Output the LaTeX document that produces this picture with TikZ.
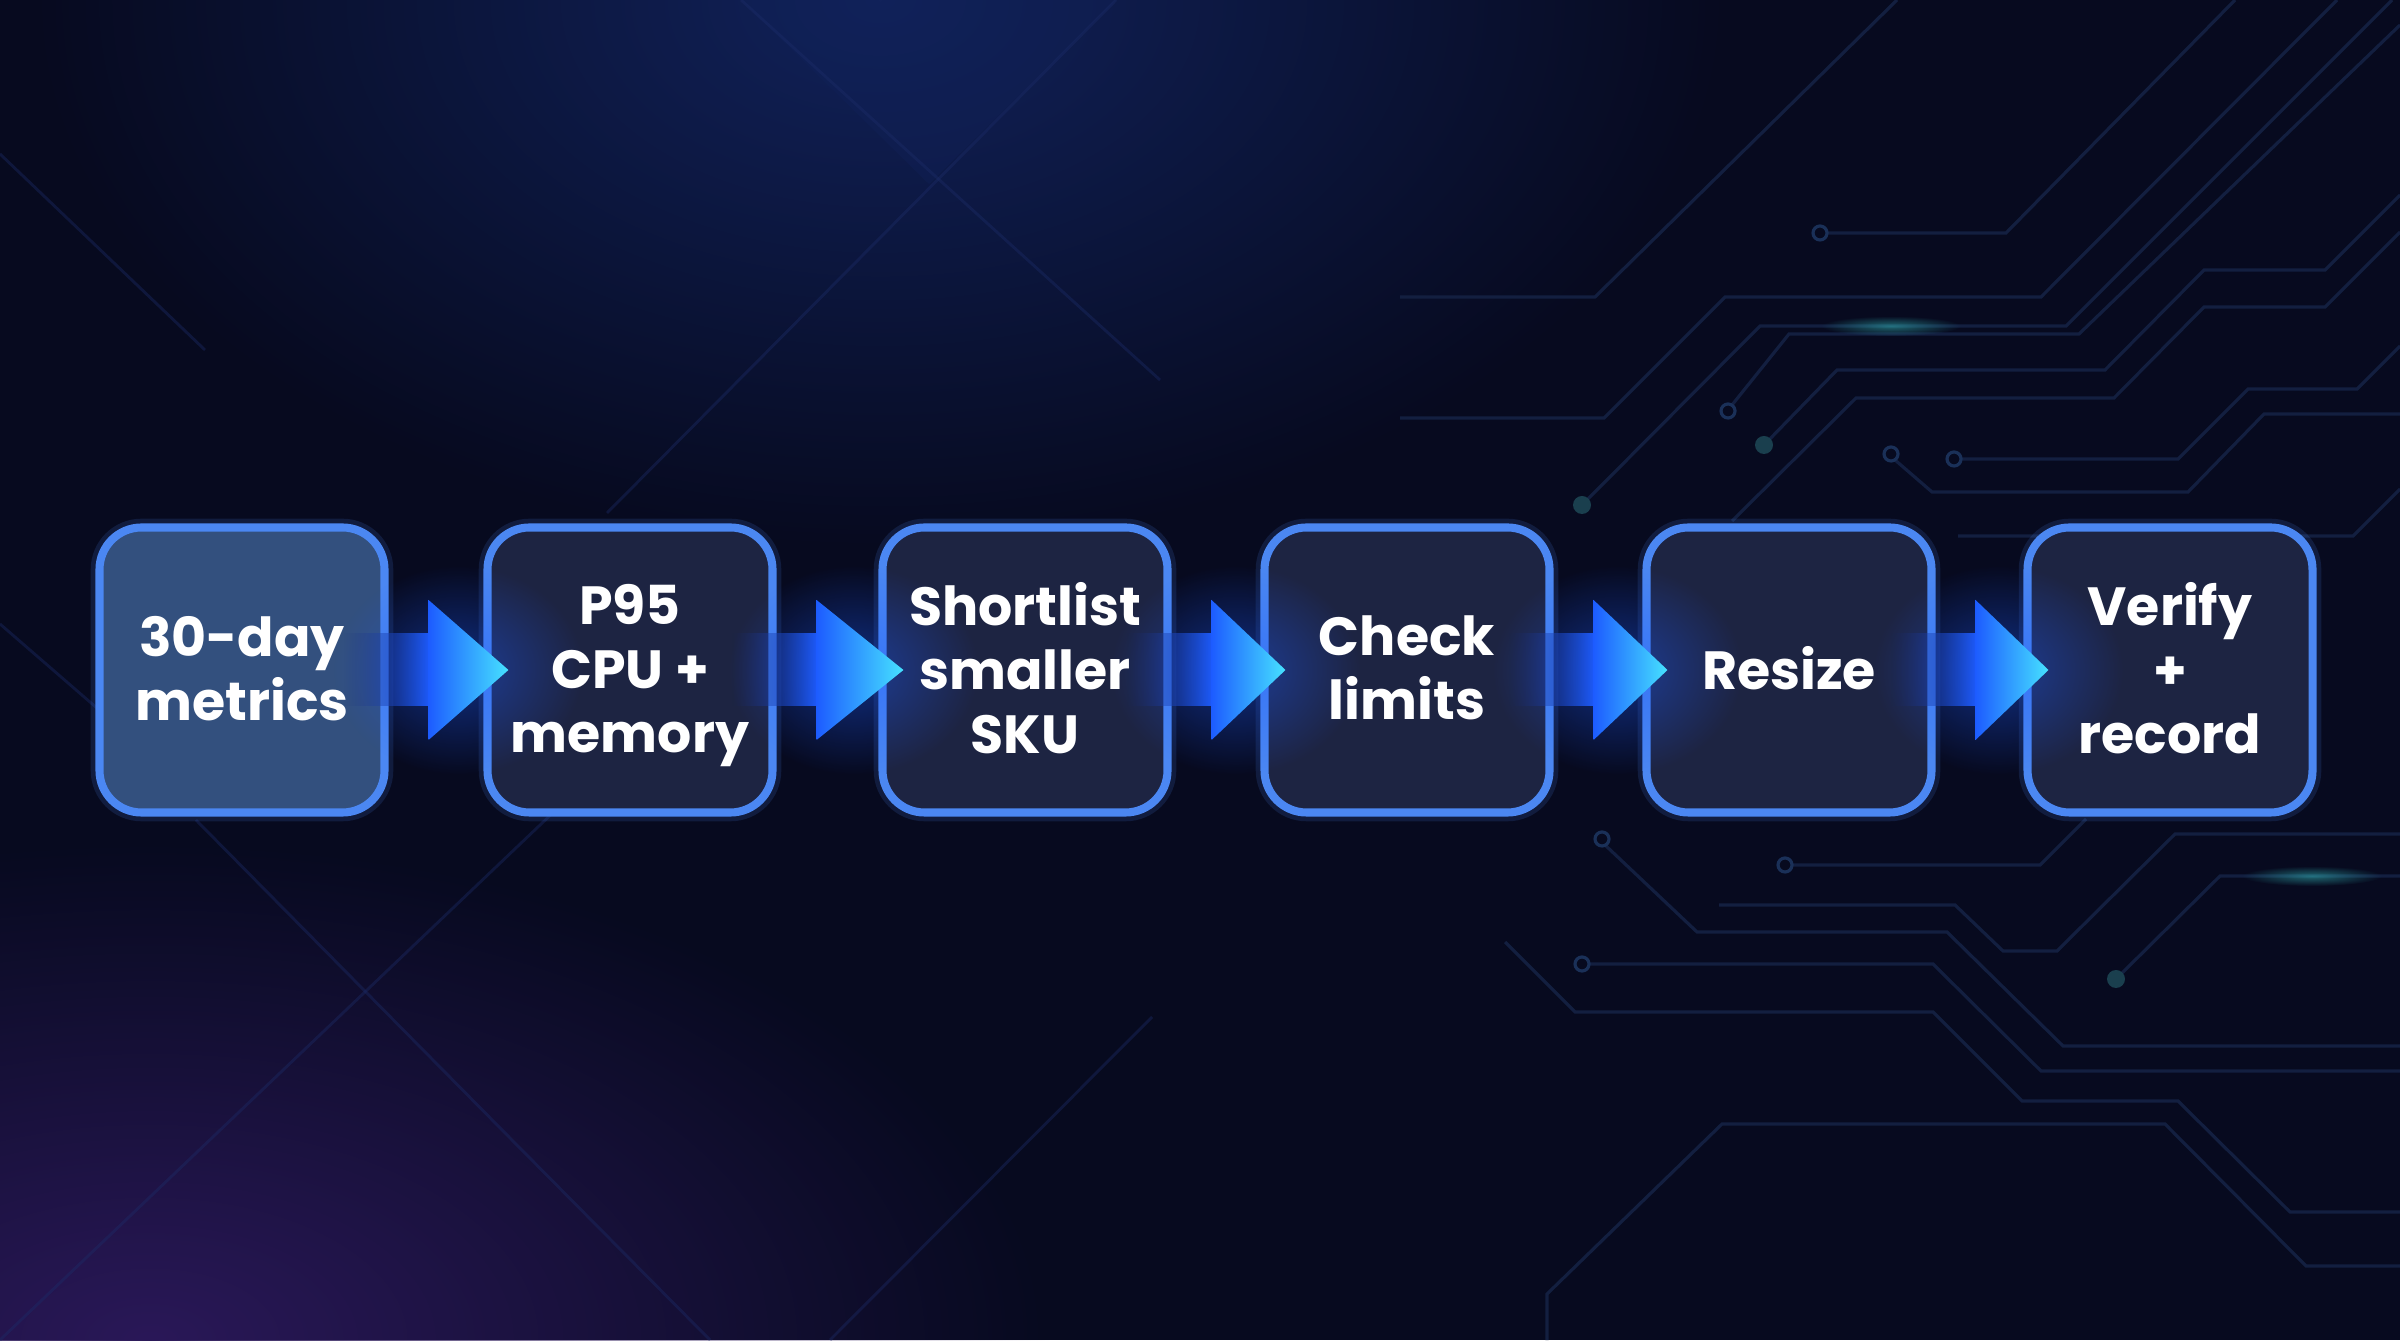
\documentclass[tikz,border=0pt]{standalone}
\usepackage{fontspec}
\setmainfont{Poppins}[BoldFont={Poppins Bold}]
\usetikzlibrary{calc,positioning,fadings}
\definecolor{bgnavy}{HTML}{070A1F}
\definecolor{bgblue}{HTML}{11225A}
\definecolor{bgpurple}{HTML}{2A1858}
\definecolor{diagcol}{HTML}{1C2C68}
\definecolor{tracecol}{HTML}{131F40}
\definecolor{padcol}{HTML}{1A3058}
\definecolor{dotcol}{HTML}{1A3F4E}
\definecolor{glowcol}{HTML}{2FA6A8}
\definecolor{boxline}{HTML}{4B87F2}
\definecolor{boxfill}{HTML}{1D2442}
\definecolor{firstfill}{HTML}{33507E}
\definecolor{shaftleft}{HTML}{1A2A70}
\definecolor{arrowblue}{HTML}{1D5CFF}
\definecolor{arrowmid}{HTML}{2470FF}
\definecolor{arrowcyan}{HTML}{46E2FF}
\tikzfading[name=shaftfade, left color=transparent!100, right color=transparent!0]
\tikzfading[name=softglow, inner color=transparent!0, outer color=transparent!100]
\tikzset{
    stepbox/.style={draw=boxline, line width=2.3pt, rounded corners=0.42cm, fill=boxfill,
        minimum width=2.85cm, minimum height=2.85cm, inner sep=0pt,
        preaction={draw=boxline, line width=5pt, opacity=0.15}},
    steptext/.style={text=white, align=center, text depth=0pt, yshift=0.02cm,
        font=\bfseries\fontsize{15.3}{18.2}\selectfont},
    diagline/.style={draw=diagcol, line width=0.8pt, opacity=0.4},
    trace/.style={draw=tracecol, line width=0.9pt},
    pad/.style={draw=padcol, line width=0.9pt},
    tracedot/.style={fill=dotcol},
}
% block arrow from one step box to the next
\newcommand{\flowarrow}[2]{%
    \fill[arrowblue, opacity=0.45, path fading=softglow] ($(#2.west)+(-0.25,0)$) ellipse (1.25cm and 1.05cm);
    \shade[left color=shaftleft, right color=arrowblue, path fading=shaftfade]
        ($(#1.east)+(-0.45,-0.36)$) rectangle ($(#1.east)+(0.42,0.36)$);
    \shade[left color=arrowblue, middle color=arrowmid, right color=arrowcyan]
        ($(#1.east)+(0.40,0.70)$) -- ($(#2.west)+(0.25,0)$) -- ($(#1.east)+(0.40,-0.70)$) -- cycle;
}

\begin{document}
\begin{tikzpicture}
    \useasboundingbox (0,0) rectangle (24,13.4);
    \fill[bgnavy] (0,0) rectangle (24,13.4);
    \fill[bgblue, path fading=softglow] (8.8,13.4) ellipse (8.5cm and 5.5cm);
    \fill[bgpurple, path fading=softglow] (1.5,0) ellipse (9cm and 5cm);
    \fill[bgblue, opacity=0.35] (7.41,13.4) -- (9.29,11.56) -- (11.16,13.4) -- cycle;

        \draw[diagline] (7.41,13.4) -- (11.6,9.6);
        \draw[diagline] (11.16,13.4) -- (6.07,8.27);
        \draw[diagline] (0,11.86) -- (2.05,9.9);
        \draw[diagline] (0,7.16) -- (0.98,6.31);
        \draw[diagline] (1.96,5.2) -- (5.09,2.03) -- (7.1,0);
        \draw[diagline] (0,0) -- (6.25,5.96);
        \draw[diagline] (11.52,3.23) -- (8.30,0);

    \begin{scope}
        \draw[trace] (18.27,11.07) -- (20.06,11.07) -- (22.35,13.4);
        \draw[pad] (18.20,11.07) circle (0.07);
        \draw[trace] (14.00,10.43) -- (15.95,10.43) -- (18.97,13.4);
        \draw[trace] (14.00,9.22) -- (16.04,9.22) -- (17.25,10.43) -- (20.41,10.43) -- (23.37,13.4);
        \draw[trace] (15.82,8.35) -- (17.60,10.14) -- (20.66,10.14) -- (23.92,13.4);
        \fill[tracedot] (15.82,8.35) circle (0.09);
        \draw[trace] (17.32,9.35) -- (17.89,10.06) -- (20.79,10.06) -- (24,13.15);
        \draw[pad] (17.28,9.29) circle (0.07);
        \draw[trace] (17.64,8.95) -- (18.37,9.70) -- (21.05,9.70) -- (22.04,10.70) -- (23.25,10.70) -- (24,11.45);
        \fill[tracedot] (17.64,8.95) circle (0.09);
        \draw[trace] (17.32,8.19) -- (18.56,9.42) -- (21.14,9.42) -- (22.04,10.33) -- (23.25,10.33) -- (24,11.08);
        \draw[trace] (19.61,8.81) -- (21.78,8.81) -- (22.48,9.51) -- (23.57,9.51) -- (24,9.94);
        \draw[pad] (19.54,8.81) circle (0.07);
        \draw[trace] (18.95,8.80) -- (19.32,8.48) -- (21.88,8.48) -- (22.64,9.26) -- (24,9.26);
        \draw[pad] (18.91,8.86) circle (0.07);
        \draw[trace] (19.58,8.04) -- (23.53,8.04) -- (24,8.51);
        \draw[trace] (17.92,4.75) -- (20.40,4.75) -- (20.86,5.21);
        \draw[pad] (17.85,4.75) circle (0.07);
        \draw[trace] (16.05,4.95) -- (16.97,4.08) -- (19.47,4.08) -- (20.63,2.94) -- (24,2.94);
        \draw[pad] (16.02,5.01) circle (0.07);
        \draw[trace] (17.19,4.35) -- (19.55,4.35) -- (20.03,3.89) -- (20.57,3.89) -- (21.75,5.06) -- (24,5.06);
        \draw[trace] (15.89,3.76) -- (19.33,3.76) -- (20.41,2.69) -- (24,2.69);
        \draw[pad] (15.82,3.76) circle (0.07);
        \draw[trace] (15.05,3.98) -- (15.75,3.28) -- (19.33,3.28) -- (20.22,2.39) -- (21.78,2.39) -- (22.90,1.28) -- (24,1.28);
        \draw[trace] (15.47,0) -- (15.47,0.46) -- (17.22,2.16) -- (21.65,2.16) -- (23.06,0.74) -- (24,0.74);
        \draw[trace] (21.16,3.61) -- (22.20,4.64) -- (24,4.64);
        \fill[tracedot] (21.16,3.61) circle (0.09);
        \fill[glowcol, opacity=0.6, path fading=softglow] (18.91,10.14) ellipse (0.7cm and 0.1cm);
        \fill[glowcol, opacity=0.6, path fading=softglow] (23.12,4.64) ellipse (0.7cm and 0.1cm);
    \end{scope}

    \node[stepbox, fill=firstfill] (b1) at (2.42,6.70) {};
    \node[stepbox] (b2) at (6.30,6.70) {};
    \node[stepbox] (b3) at (10.25,6.70) {};
    \node[stepbox] (b4) at (14.07,6.70) {};
    \node[stepbox] (b5) at (17.89,6.70) {};
    \node[stepbox] (b6) at (21.70,6.70) {};

    \flowarrow{b1}{b2}
    \flowarrow{b2}{b3}
    \flowarrow{b3}{b4}
    \flowarrow{b4}{b5}
    \flowarrow{b5}{b6}

    \node[steptext] (t1) at (b1) {30-day\\metrics};
    \node[steptext] (t2) at (b2) {P95\\CPU +\\memory};
    \node[steptext] (t3) at (b3) {Shortlist\\smaller\\SKU};
    \node[steptext] (t4) at (b4) {Check\\limits};
    \node[steptext] (t5) at (b5) {Resize};
    \node[steptext] (t6) at (b6) {Verify\\+\\record};
\end{tikzpicture}
\end{document}
